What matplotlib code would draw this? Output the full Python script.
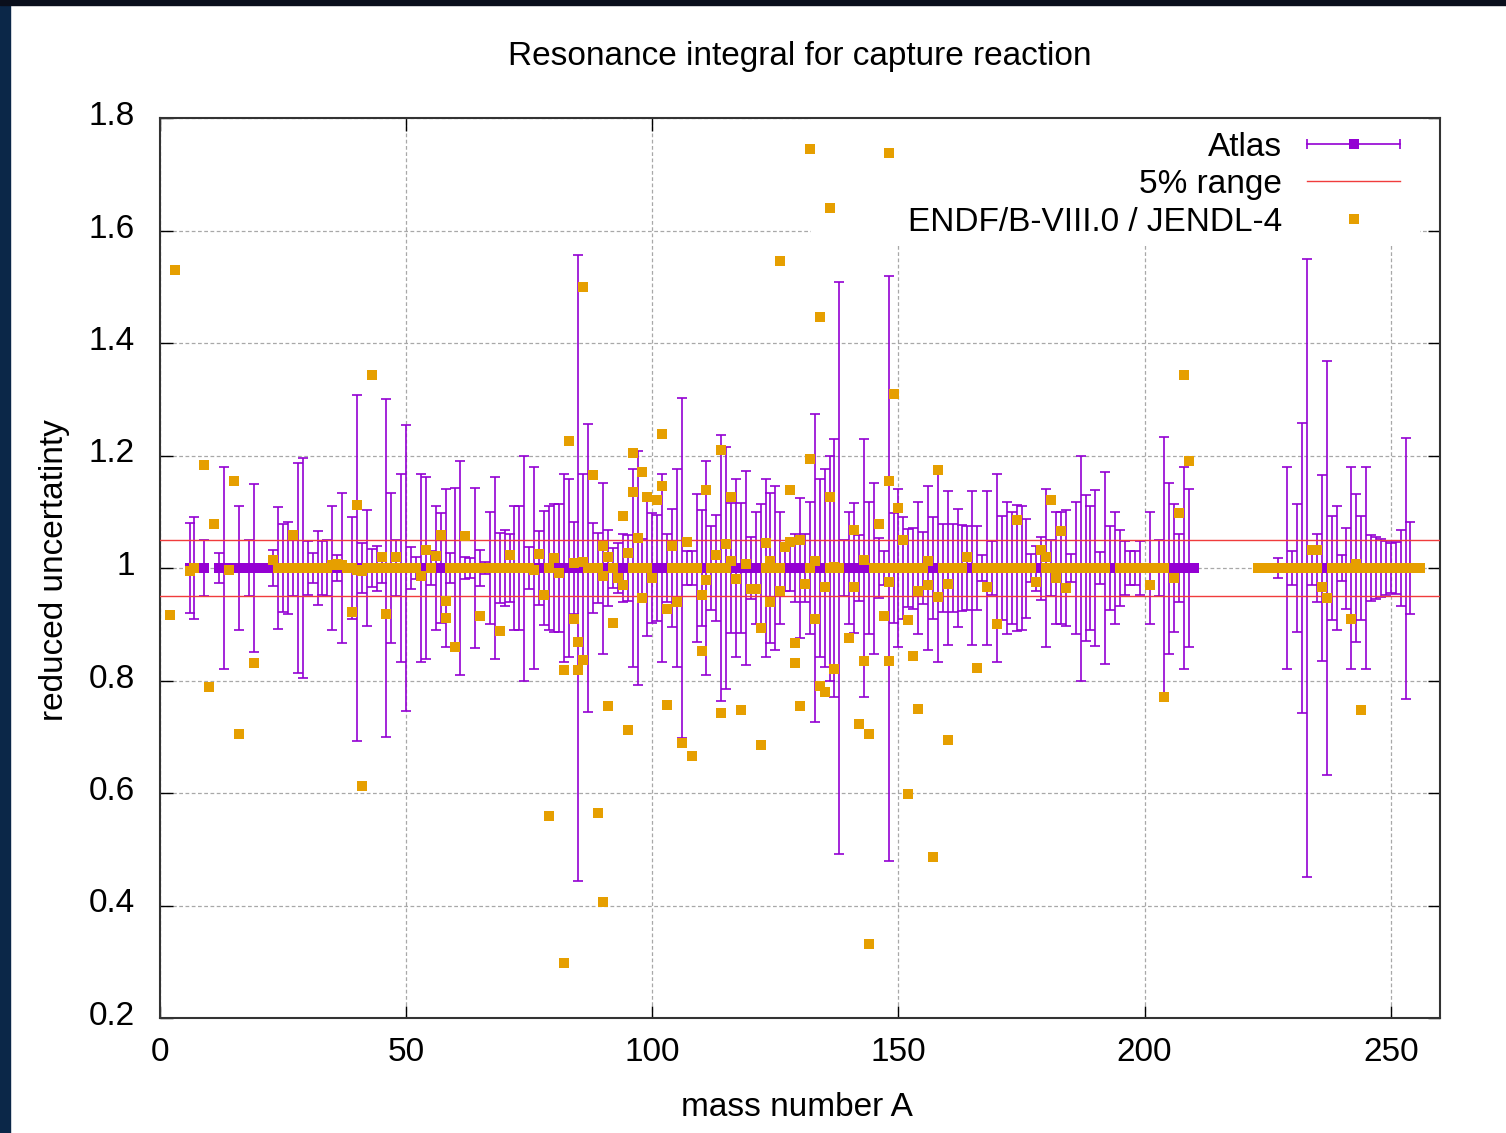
import matplotlib.pyplot as plt
from matplotlib.lines import Line2D
from matplotlib.legend_handler import HandlerLine2D
from matplotlib.patches import Rectangle
from matplotlib.transforms import ScaledTranslation

plt.rcParams['font.family'] = ['Liberation Sans', 'DejaVu Sans']

# Atlas: reduced uncertainty is 1 by construction, error bars = relative uncertainty
atlas_A = [6, 7, 9,
           12, 13, 14, 15, 16, 17, 18, 19, 20, 21,
           22, 23, 24, 25, 26, 27, 28, 29, 30, 31,
           32, 33, 34, 35, 36, 37, 38, 39, 40, 41,
           42, 43, 44, 45, 46, 47, 48, 49, 50, 51,
           52, 53, 54, 55, 56, 57, 58, 59, 60, 61,
           62, 63, 64, 65, 66, 67, 68, 69, 70, 71,
           72, 73, 74, 75, 76, 77, 78, 79, 80, 81,
           82, 83, 84, 85, 86, 87, 88, 89, 90, 91,
           92, 93, 94, 95, 96, 97, 98, 99, 100, 101,
           102, 103, 104, 105, 106, 107, 108, 109, 110, 111,
           112, 113, 114, 115, 116, 117, 118, 119, 120, 121,
           122, 123, 124, 125, 126, 127, 128, 129, 130, 131,
           132, 133, 134, 135, 136, 137, 138, 139, 140, 141,
           142, 143, 144, 145, 146, 147, 148, 149, 150, 151,
           152, 153, 154, 155, 156, 157, 158, 159, 160, 161,
           162, 163, 164, 165, 166, 167, 168, 169, 170, 171,
           172, 173, 174, 175, 176, 177, 178, 179, 180, 181,
           182, 183, 184, 185, 186, 187, 188, 189, 190, 191,
           192, 193, 194, 195, 196, 197, 198, 199, 200, 201,
           202, 203, 204, 205, 206, 207, 208, 209, 210,
           223, 224, 225, 226, 227, 228, 229, 230, 231, 232,
           233, 234, 235, 236, 237, 238, 239, 240, 241, 242,
           243, 244, 245, 246, 247, 248, 249, 250, 251, 252,
           253, 254, 255, 256]

atlas_val = [1.0, 1.0, 1.0,
             1.0, 1.0, 1.0, 1.0, 1.0, 1.0, 1.0, 1.0, 1.0, 1.0,
             1.0, 1.0, 1.0, 1.0, 1.0, 1.0, 1.0, 1.0, 1.0, 1.0,
             1.0, 1.0, 1.0, 1.0, 1.0, 1.0, 1.0, 1.0, 1.0, 1.0,
             1.0, 1.0, 1.0, 1.0, 1.0, 1.0, 1.0, 1.0, 1.0, 1.0,
             1.0, 1.0, 1.0, 1.0, 1.0, 1.0, 1.0, 1.0, 1.0, 1.0,
             1.0, 1.0, 1.0, 1.0, 1.0, 1.0, 1.0, 1.0, 1.0, 1.0,
             1.0, 1.0, 1.0, 1.0, 1.0, 1.0, 1.0, 1.0, 1.0, 1.0,
             1.0, 1.0, 1.0, 1.0, 1.0, 1.0, 1.0, 1.0, 1.0, 1.0,
             1.0, 1.0, 1.0, 1.0, 1.0, 1.0, 1.0, 1.0, 1.0, 1.0,
             1.0, 1.0, 1.0, 1.0, 1.0, 1.0, 1.0, 1.0, 1.0, 1.0,
             1.0, 1.0, 1.0, 1.0, 1.0, 1.0, 1.0, 1.0, 1.0, 1.0,
             1.0, 1.0, 1.0, 1.0, 1.0, 1.0, 1.0, 1.0, 1.0, 1.0,
             1.0, 1.0, 1.0, 1.0, 1.0, 1.0, 1.0, 1.0, 1.0, 1.0,
             1.0, 1.0, 1.0, 1.0, 1.0, 1.0, 1.0, 1.0, 1.0, 1.0,
             1.0, 1.0, 1.0, 1.0, 1.0, 1.0, 1.0, 1.0, 1.0, 1.0,
             1.0, 1.0, 1.0, 1.0, 1.0, 1.0, 1.0, 1.0, 1.0, 1.0,
             1.0, 1.0, 1.0, 1.0, 1.0, 1.0, 1.0, 1.0, 1.0, 1.0,
             1.0, 1.0, 1.0, 1.0, 1.0, 1.0, 1.0, 1.0, 1.0, 1.0,
             1.0, 1.0, 1.0, 1.0, 1.0, 1.0, 1.0, 1.0, 1.0, 1.0,
             1.0, 1.0, 1.0, 1.0, 1.0, 1.0, 1.0, 1.0, 1.0,
             1.0, 1.0, 1.0, 1.0, 1.0, 1.0, 1.0, 1.0, 1.0, 1.0,
             1.0, 1.0, 1.0, 1.0, 1.0, 1.0, 1.0, 1.0, 1.0, 1.0,
             1.0, 1.0, 1.0, 1.0, 1.0, 1.0, 1.0, 1.0, 1.0, 1.0,
             1.0, 1.0, 1.0, 1.0]

atlas_err = [0.08, 0.09, 0.05,
             0.027, 0.18, 0.005, 0.005, 0.11, 0.005, 0.05, 0.15, 0.005, 0.005,
             0.005, 0.032, 0.108, 0.078, 0.082, 0.05, 0.187, 0.195, 0.048, 0.027,
             0.065, 0.048, 0.05, 0.11, 0.023, 0.134, 0.005, 0.09, 0.307, 0.045,
             0.103, 0.033, 0.04, 0.026, 0.30, 0.134, 0.05, 0.167, 0.255, 0.037,
             0.02, 0.167, 0.162, 0.03, 0.11, 0.098, 0.14, 0.026, 0.142, 0.19,
             0.02, 0.017, 0.142, 0.032, 0.01, 0.1, 0.162, 0.063, 0.067, 0.06,
             0.11, 0.11, 0.2, 0.037, 0.18, 0.066, 0.102, 0.11, 0.113, 0.113,
             0.167, 0.158, 0.082, 0.557, 0.167, 0.256, 0.08, 0.062, 0.152, 0.068,
             0.035, 0.045, 0.06, 0.058, 0.176, 0.208, 0.052, 0.12, 0.098, 0.095,
             0.167, 0.06, 0.105, 0.176, 0.302, 0.03, 0.03, 0.132, 0.103, 0.19,
             0.075, 0.094, 0.237, 0.215, 0.116, 0.158, 0.116, 0.172, 0.055, 0.1,
             0.113, 0.158, 0.134, 0.146, 0.1, 0.04, 0.04, 0.06, 0.125, 0.06,
             0.118, 0.274, 0.158, 0.176, 0.2, 0.23, 0.509, 0.05, 0.1, 0.115,
             0.058, 0.23, 0.118, 0.152, 0.053, 0.03, 0.52, 0.098, 0.14, 0.09,
             0.069, 0.072, 0.118, 0.064, 0.145, 0.09, 0.167, 0.078, 0.136, 0.078,
             0.105, 0.076, 0.075, 0.136, 0.075, 0.023, 0.136, 0.048, 0.167, 0.093,
             0.118, 0.1, 0.112, 0.11, 0.088, 0.025, 0.04, 0.056, 0.141, 0.05,
             0.1, 0.1, 0.103, 0.025, 0.118, 0.2, 0.13, 0.11, 0.138, 0.028,
             0.17, 0.075, 0.1, 0.067, 0.048, 0.03, 0.031, 0.048, 0.005, 0.1,
             0.005, 0.05, 0.233, 0.152, 0.113, 0.06, 0.18, 0.14, 0.005,
             0.005, 0.005, 0.005, 0.005, 0.018, 0.005, 0.18, 0.03, 0.113, 0.257,
             0.549, 0.03, 0.06, 0.166, 0.368, 0.092, 0.11, 0.023, 0.072, 0.18,
             0.131, 0.093, 0.18, 0.058, 0.055, 0.052, 0.048, 0.045, 0.047, 0.068,
             0.232, 0.082, 0.005, 0.005]

# ENDF/B-VIII.0 / JENDL-4 ratios
endf_A = [2, 3, 6, 7, 9, 10, 11, 14, 15, 16, 19,
          23, 24, 25, 26, 27, 27, 28, 29, 30, 31, 32, 33, 34, 35, 36, 37, 38,
          39, 39, 40, 40, 41, 41, 42, 43, 44, 45, 46, 46, 47, 48, 49, 50,
          51, 52, 53, 54, 55, 56, 57, 58, 58, 59, 60, 60, 61, 62, 62, 63, 64, 65, 65,
          66, 67, 68, 69, 69, 70, 71, 72, 73, 74, 75, 76, 77, 78, 79, 79, 80, 81,
          82, 82, 83, 84, 84, 85, 85, 86, 86, 86, 87, 88, 88, 89, 89,
          90, 90, 90, 91, 91, 92, 92, 93, 94, 94, 95, 95, 96, 96, 96, 97, 98, 98, 98, 99, 99,
          100, 101, 102, 102, 103, 103, 104, 104, 105, 105, 106, 106, 107, 107, 108, 108, 109,
          110, 110, 111, 111, 112, 113, 114, 114, 114, 115, 115, 116, 116, 117, 118, 119,
          120, 121, 122, 122, 123, 123, 124, 124, 125, 126, 126, 126, 127, 128, 128, 129, 129,
          130, 130, 131, 132, 132, 132, 133, 133, 134, 134, 135, 135, 136, 136, 136, 137, 137, 138,
          140, 141, 141, 142, 143, 143, 144, 144, 145, 146, 146, 147, 147, 148, 148, 148, 148, 149, 149,
          150, 150, 151, 151, 152, 152, 152, 153, 153, 154, 154, 155, 156, 156, 157, 158, 158, 159,
          160, 160, 161, 162, 163, 164, 166, 166, 167, 168, 168, 169, 170, 170, 171, 172, 173, 174, 174,
          175, 176, 177, 178, 179, 180, 180, 181, 181, 182, 183, 183, 184, 184,
          185, 186, 187, 188, 189, 190, 191, 192, 195, 196, 197, 198, 199, 200,
          201, 201, 202, 203, 204, 204, 206, 207, 208, 209,
          223, 224, 225, 226, 227, 228, 229, 230, 231, 232, 233, 234, 235, 235, 236, 237,
          238, 239, 240, 241, 242, 242, 243, 244, 244, 245, 246, 247, 248, 249, 250,
          251, 252, 253, 254, 255, 256]

endf_val = [0.916, 1.529, 0.995, 1.0, 1.183, 0.789, 1.079, 0.997, 1.155, 0.705, 0.832,
            1.015, 1.0, 1.0, 1.0, 1.059, 1.0, 1.0, 1.0, 1.0, 1.0, 1.0, 1.0, 1.0, 1.005, 1.007, 1.005, 1.0,
            0.921, 1.0, 1.112, 0.997, 0.612, 0.995, 1.0, 1.344, 1.0, 1.019, 0.919, 1.0, 1.0, 1.019, 1.0, 1.0,
            1.0, 1.0, 0.985, 1.032, 1.0, 1.022, 1.059, 0.942, 0.911, 1.0, 0.86, 1.0, 1.0, 1.057, 1.0, 1.0, 1.0, 0.914, 1.0,
            1.0, 1.0, 1.0, 0.888, 1.0, 1.0, 1.024, 1.0, 1.0, 1.0, 1.0, 0.997, 1.025, 0.952, 0.56, 1.0, 1.017, 0.992,
            0.819, 0.297, 1.225, 1.009, 0.909, 0.869, 0.819, 0.837, 1.5, 1.01, 1.0, 1.166, 1.0, 0.565, 1.0,
            1.04, 0.985, 0.407, 1.019, 0.754, 0.902, 1.0, 0.982, 1.092, 0.969, 1.027, 0.712, 1.205, 1.135, 1.0, 1.054, 1.171, 0.946, 1.0, 1.127, 1.0,
            0.982, 1.121, 1.239, 1.146, 0.927, 0.756, 1.04, 1.0, 0.939, 1.0, 0.689, 1.0, 1.047, 1.0, 0.666, 1.0, 1.0,
            0.852, 0.952, 1.138, 0.979, 1.0, 1.024, 1.21, 0.742, 1.0, 1.042, 1.0, 1.127, 1.012, 0.98, 0.747, 1.007,
            0.962, 0.962, 0.894, 0.686, 1.045, 1.0, 1.012, 0.94, 1.0, 1.545, 0.959, 1.0, 1.037, 1.139, 1.047, 0.867, 0.832,
            0.754, 1.049, 0.972, 1.745, 1.194, 1.0, 1.012, 0.909, 1.447, 0.79, 0.779, 0.967, 1.64, 1.127, 1.0, 0.82, 1.002, 1.0,
            0.875, 1.068, 0.967, 0.722, 0.834, 1.015, 0.705, 0.332, 1.0, 1.079, 1.0, 0.914, 1.0, 1.737, 0.834, 1.155, 0.975, 1.31, 1.0,
            1.107, 1.0, 1.049, 1.0, 0.907, 0.599, 1.0, 0.844, 1.0, 0.75, 0.959, 1.0, 0.969, 1.012, 0.486, 1.175, 0.949, 1.0,
            0.694, 0.972, 1.0, 1.0, 1.0, 1.019, 0.823, 1.0, 1.0, 0.967, 1.0, 1.0, 0.9, 1.0, 1.0, 1.0, 1.0, 1.085, 1.0,
            1.0, 1.0, 1.0, 0.975, 1.032, 1.019, 1.0, 1.121, 1.0, 0.982, 1.065, 1.0, 0.964, 1.0,
            1.0, 1.0, 1.0, 1.0, 1.0, 1.0, 1.0, 1.0, 1.0, 1.0, 1.0, 1.0, 1.0, 1.0,
            0.969, 1.0, 1.0, 1.0, 0.77, 1.0, 0.983, 1.097, 1.344, 1.191,
            1.0, 1.0, 1.0, 1.0, 1.0, 1.0, 1.0, 1.0, 1.0, 1.0, 1.0, 1.032, 1.032, 1.0, 0.967, 0.947,
            1.0, 1.0, 1.0, 1.0, 0.91, 1.0, 1.007, 0.748, 1.0, 1.0, 1.0, 1.0, 1.0, 1.0, 1.0,
            1.0, 1.0, 1.0, 1.0, 1.0, 1.0]

range_lo = 0.95
range_hi = 1.05

xticks = [0, 50, 100, 150, 200, 250]
yticks = [0.2, 0.4, 0.6, 0.8, 1.0, 1.2, 1.4, 1.6, 1.8]
ytick_labels = ['0.2', '0.4', '0.6', '0.8', '1', '1.2', '1.4', '1.6', '1.8']

purple = '#9400d3'
orange = '#e69f00'
red = '#f03c3c'
fs = 24

W, H = 1506, 1133
fig = plt.figure(figsize=(W / 100, H / 100), dpi=100)
# dark border of the slide screenshot
fig.patches.append(Rectangle((0, 0), 10 / W, 1, transform=fig.transFigure,
                             color='#0b2748', zorder=-10))
fig.patches.append(Rectangle((0, 1 - 5 / H), 1, 5 / H, transform=fig.transFigure,
                             color='#0a0f1c', zorder=-10))

ax = fig.add_axes([160 / W, 1 - 1018 / H, 1280 / W, 900 / H])
ax.set_axisbelow(True)
ax.grid(True, color='#a8a8a8', linestyle=(0, (3, 2)), linewidth=0.9)

# Atlas error bars, then the square markers
ax.errorbar(atlas_A, atlas_val, yerr=atlas_err, fmt='none', ecolor=purple,
            elinewidth=1.2, capsize=3.6, capthick=1.2, zorder=3)
ax.plot(atlas_A, atlas_val, 's', color=purple, ms=7.5, mew=0, ls='none', zorder=3)
ax.axhline(range_hi, color=red, lw=1, zorder=4)
ax.axhline(range_lo, color=red, lw=1, zorder=4)
ax.plot(endf_A, endf_val, 's', color=orange, ms=7.5, mew=0, ls='none', zorder=5)

ax.set_xlim(0, 260)
ax.set_ylim(0.2, 1.8)
ax.set_xticks(xticks)
ax.set_yticks(yticks)
ax.set_yticklabels(ytick_labels)
ax.tick_params(direction='in', length=9, width=1, top=True, right=True, labelsize=fs)
ax.tick_params(axis='x', pad=14)
ax.tick_params(axis='y', pad=18)
up = ScaledTranslation(0, 5 / 100, fig.dpi_scale_trans)
for lab in ax.get_yticklabels():
    lab.set_transform(lab.get_transform() + up)
for s in ax.spines.values():
    s.set_linewidth(1.5)
    s.set_color('#333333')

# opaque key area (hides grid, data drawn on top)
ax.add_patch(Rectangle((0.5086, 0.8578), 0.4754, 0.1422, transform=ax.transAxes,
                       facecolor='white', edgecolor='none', zorder=1))

h_bar = Line2D([], [], color=purple, lw=1.2, marker='|', ms=7.5, mew=1.2)
h_sq = Line2D([], [], color=purple, ls='none', marker='s', ms=7.5, mew=0)
h_red = Line2D([], [], color=red, lw=1)
h_endf = Line2D([], [], color=orange, ls='none', marker='s', ms=7.5, mew=0)
leg = ax.legend([(h_bar, h_sq), h_red, h_endf],
                ['Atlas', '5% range', 'ENDF/B-VIII.0 / JENDL-4'],
                loc='upper right', bbox_to_anchor=(0.969, 0.985), borderaxespad=0,
                borderpad=0, markerfirst=False, frameon=False, fontsize=fs,
                handlelength=2.8, handletextpad=0.75, labelspacing=0.2, numpoints=1,
                handler_map={h_bar: HandlerLine2D(numpoints=2, marker_pad=0)})
leg.set_zorder(2)

fig.text(800 / W, 1 - 56 / H, 'Resonance integral for capture reaction',
         ha='center', va='center', fontsize=fs)
fig.text(797 / W, 1 - 1108 / H, 'mass number A', ha='center', va='center', fontsize=fs)
fig.text(55 / W, 1 - 570 / H, 'reduced uncertatinty', ha='center', va='center',
         rotation=90, fontsize=fs)

fig.savefig('out.png', dpi=100)
